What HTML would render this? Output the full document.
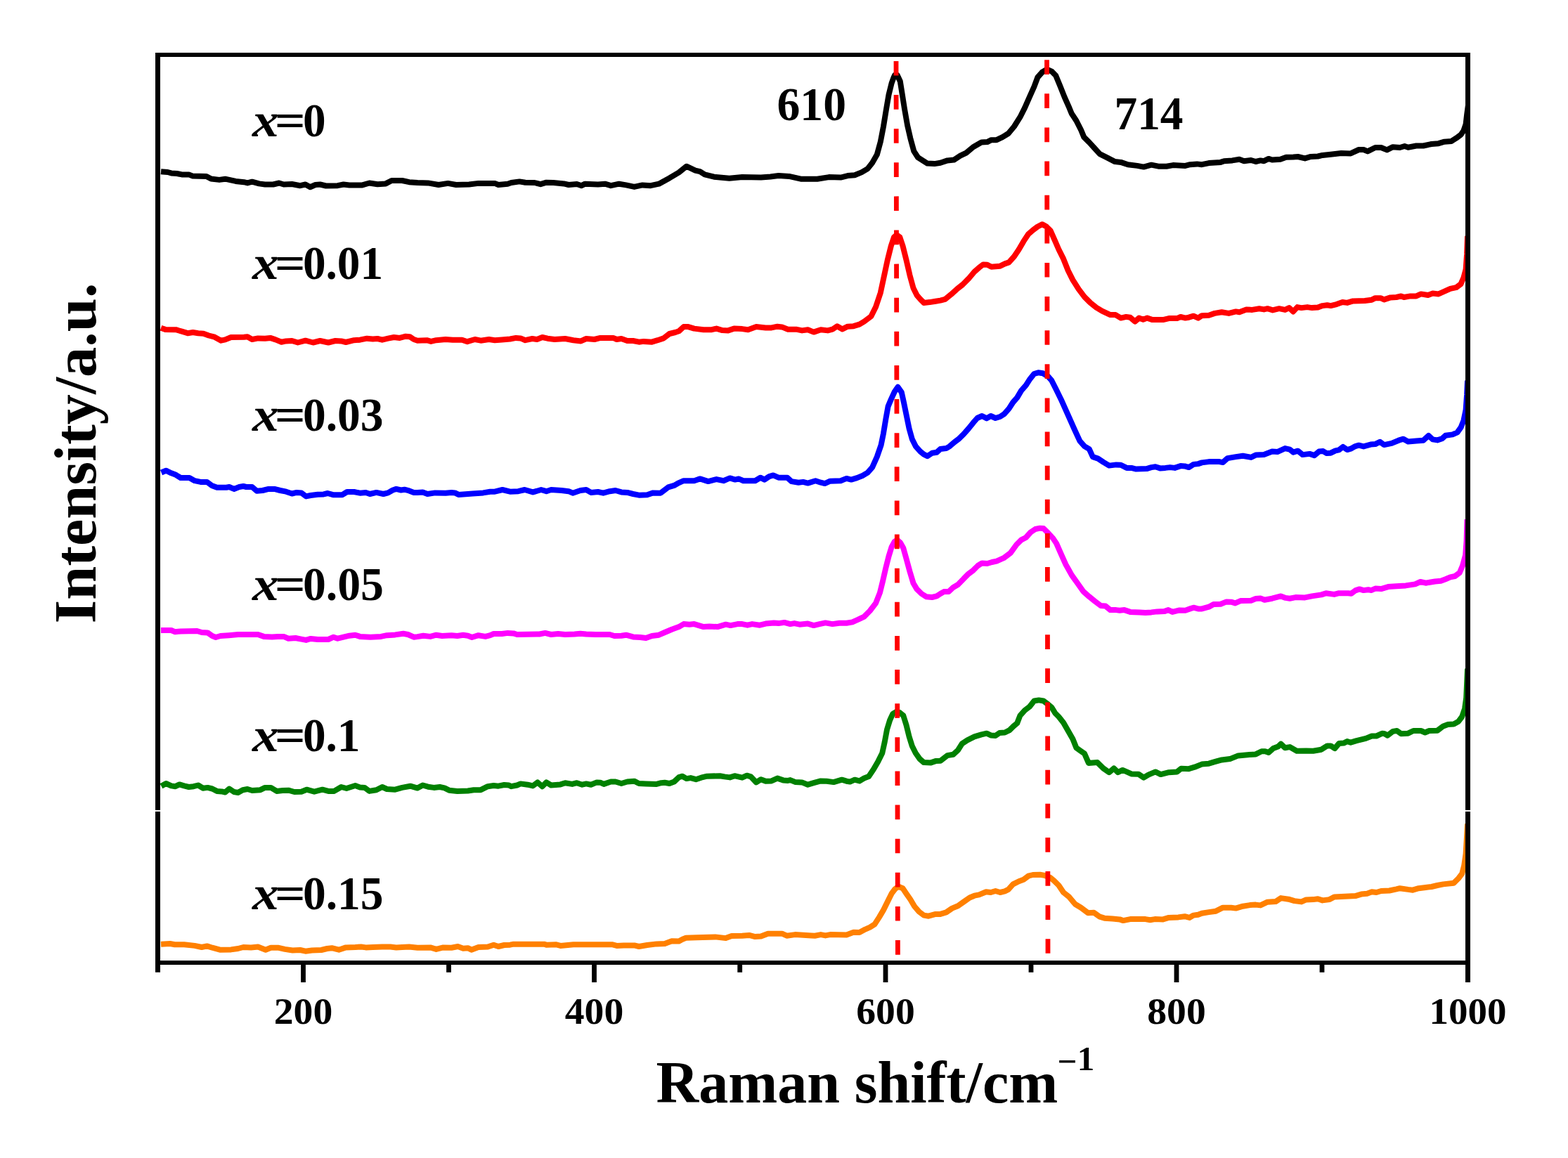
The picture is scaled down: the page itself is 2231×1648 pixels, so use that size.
<!DOCTYPE html>
<html lang="en"><head><meta charset="utf-8"><title>Raman spectra</title>
<style>html,body{margin:0;padding:0;background:#fff}body{width:2231px;height:1648px;overflow:hidden}svg{display:block}text{font-family:"Liberation Serif","Times New Roman",serif;font-weight:bold;fill:#000}.it{font-style:italic}</style></head><body>
<svg width="2231" height="1648" viewBox="0 0 2231 1648">
<rect width="2231" height="1648" fill="#fff"/>
<defs><clipPath id="plot"><rect x="224" y="78" width="1864.5" height="1292"/></clipPath></defs>
<g fill="none" stroke-width="8" stroke-linejoin="round" stroke-linecap="butt" clip-path="url(#plot)">
<path stroke="#000000" d="M229,244.2 L238.7,245 L243.7,246.4 L252,247 L258.7,248.4 L268.7,248.4 L273.7,250.4 L293.7,250.9 L300.4,254.5 L312,255.9 L320.4,254.7 L335.4,257.9 L347.1,259.2 L352.1,260.4 L358.7,258.7 L368.7,261.4 L377.1,262.5 L388.7,262.5 L397.1,260.5 L403.7,262.5 L415.4,262 L427.1,264.2 L434.6,262.5 L441.3,266.2 L448.8,263 L455.4,262.5 L463.8,264.5 L480.4,264.2 L488.8,262.5 L497.1,263.4 L515.5,263.4 L525.5,260.5 L537.1,262.2 L548.8,261.4 L557.2,257 L572.2,257 L582.2,259.2 L594,259.9 L609,260.4 L624,263 L637.4,260.9 L649,263 L667.4,262.5 L680.7,260.9 L704,260.9 L709.1,263 L722.4,261.7 L727.4,260 L739.1,258.4 L747.4,259.7 L760.7,260 L769.1,262.2 L777.4,259.7 L787.4,260 L802.4,261.4 L809.1,263 L820.8,262 L827.4,264.2 L832.4,261.7 L850.8,262.5 L860.8,261.7 L869.1,264.2 L880.8,261.7 L890.8,263.4 L902.5,265.9 L914.1,263.4 L925.8,264.2 L937.5,261.7 L952.5,253.4 L966,245.4 L976.8,236.7 L989.3,242.6 L996,244.2 L1002.7,248.4 L1016,251.7 L1037.7,253.7 L1056,252.1 L1082.7,252.6 L1096.1,251.4 L1107.7,250.1 L1122.7,250.9 L1139.4,254.7 L1162.8,254.7 L1179.4,252.1 L1196.1,252.6 L1206.1,250.1 L1216.1,249.2 L1226.1,245.1 L1234.5,240.1 L1241.1,231.7 L1247.8,220.1 L1252.8,201.7 L1257,180 L1260.8,156.7 L1264.5,135 L1268.6,118.4 L1271.8,109.7 L1273.1,107 L1276.8,107 L1278.1,110 L1280.8,115.8 L1283.6,133.4 L1287,155 L1291.1,178.4 L1295.3,196.7 L1300.3,215.1 L1306.2,224.2 L1312.8,228.4 L1319.5,232.6 L1329.5,233.1 L1338,231.7 L1348,228.4 L1357.2,227.6 L1366.3,221.7 L1374.7,217.6 L1384.7,209.2 L1396.4,202.6 L1404.7,202.1 L1410.5,199.2 L1418,199.2 L1426.4,195.1 L1434.7,190 L1443,180 L1451.4,166.7 L1458.1,153.4 L1464.7,138.4 L1471.4,123.4 L1476.4,110 L1483.1,102.5 L1489.6,98.7 L1496.4,101.7 L1502.2,107.5 L1508.1,121.7 L1514.7,138.4 L1521.4,153.4 L1524.8,161.7 L1531.4,171.7 L1538.1,185 L1542.3,195.1 L1549.8,202.6 L1558.1,211.7 L1564.8,219.2 L1574.8,224.2 L1586.4,230.1 L1594.8,230.9 L1604.8,234.2 L1618.1,235.9 L1627.3,237.6 L1638.1,234.7 L1648.1,236.7 L1659.8,236.7 L1669,235.1 L1686.5,235.9 L1693.2,234.2 L1703.2,233.4 L1710,234.2 L1720,232.1 L1736.7,230.9 L1741.7,229.2 L1753.3,228.4 L1763.4,226.7 L1770,229.2 L1780,228 L1786.7,230 L1793.4,228.4 L1798.4,229.2 L1805,225.9 L1810,227.5 L1821.7,226.7 L1830,223.7 L1840.1,223.4 L1846.7,223 L1856.7,225.4 L1865.1,222.9 L1875.1,222.5 L1881.7,220.9 L1893.4,219.7 L1908.4,218 L1921.8,218.4 L1933.4,213 L1940.1,213 L1945.9,215.4 L1956.8,210 L1965.1,210 L1973.4,213.4 L1981.8,209.2 L1991.8,210 L1998.5,208 L2003.5,209.7 L2015.1,207.5 L2025.1,207.5 L2036.8,205 L2046.8,204.2 L2055.2,201.7 L2065.2,200.9 L2071.8,196.7 L2078.5,191.7 L2082.5,185.9 L2085.6,176.7 L2087.1,163.4 L2088.8,150.8"/>
<path stroke="#ff0000" d="M229,466.7 L235.3,468.9 L250.3,469.2 L258.7,471.7 L267,474.2 L274.5,473 L282,474.2 L289.5,474.7 L297,477.5 L305.4,479.7 L314.5,484.7 L320.4,483.4 L328.7,480 L347.1,479.7 L352.1,479.2 L358.7,483 L367.1,481.4 L377.1,481.7 L384.6,480.9 L392.1,483.4 L400.4,486.7 L407.1,485.4 L415.4,485 L423.8,487.5 L434.6,484.7 L445.4,487.5 L455.4,485 L467.1,487.5 L477.1,485 L485.5,485.4 L492.1,487 L503.8,484.2 L512.1,483.7 L522.1,481.7 L530.5,482.5 L537.1,482 L543.8,483.7 L552.1,481.7 L560.5,480 L568.8,480.9 L577.2,478.7 L583,479.2 L588.8,483 L594,484.7 L607.3,484.2 L613.2,485.9 L620.7,484.2 L634,483 L644,483.7 L657.4,483.7 L664.9,486.2 L675.7,483 L684,484.7 L695.7,483 L704,484.2 L714.1,483.4 L725.7,482.5 L734.1,480.9 L740.7,481.4 L747.4,484.2 L757.4,482 L764.1,483 L771.6,480 L779.1,481.7 L789.1,483 L804.1,482 L815.8,484.2 L826.6,485.4 L834.1,482 L845.8,483 L854.1,480.9 L872.5,480.9 L877.5,483 L884.1,482 L892.5,485 L900.8,485 L909.1,486.7 L915.8,485.9 L927.5,486.7 L935.8,484.2 L944.2,481.4 L952.5,475 L960.8,473 L966,471.3 L972.7,465.1 L979.3,465.1 L987.7,467.6 L1001,469.2 L1012.7,469.2 L1019.4,467.6 L1027.7,470.1 L1036,470.4 L1044.4,467.6 L1056,468.1 L1064.4,469.2 L1076,465.1 L1089.4,466.4 L1097.7,466.4 L1106.1,464.7 L1112.7,465.4 L1121.1,468.7 L1132.7,468.7 L1141.1,470.4 L1149.4,469.2 L1157.8,472.6 L1167.8,469.2 L1177.8,470.4 L1184.4,468.7 L1191.1,464.2 L1198.6,468.4 L1206.1,464.7 L1214.4,464.2 L1222.8,461.7 L1229.5,457.6 L1239.5,450.1 L1246.1,436.7 L1252.8,416.7 L1257.8,393.4 L1262.8,370 L1267.8,350 L1272,337.5 L1275.8,334.2 L1280.3,337.5 L1284.5,350 L1289.5,370 L1294.5,391.7 L1299.5,410 L1304.5,420.1 L1309.5,425.9 L1314.5,430.9 L1322.8,430.1 L1331.2,428.7 L1338,427.6 L1344.7,425.9 L1353,419.2 L1361.3,411.7 L1369.7,405 L1378,396.7 L1386.4,386.7 L1393,380.9 L1398.9,376.4 L1404.7,376.7 L1410.5,379.7 L1423,378.7 L1429.7,375.4 L1435.5,373.4 L1443,365 L1449.7,355 L1456.4,343.4 L1463.1,333.3 L1469.7,327.5 L1476.4,322.5 L1483.1,319.2 L1488.9,322.5 L1494.7,328.3 L1500.6,341.7 L1506.4,355 L1513.1,368.4 L1519.7,385 L1526.4,398.4 L1534.8,411.7 L1543.1,422.6 L1551.4,430.9 L1559.8,437.6 L1568.1,442.6 L1579.8,448.1 L1587.3,448.1 L1594.8,452.6 L1602.3,450.9 L1608.1,451.7 L1614.8,457.6 L1620.6,452.6 L1626.5,454.7 L1632.3,452.6 L1639.8,455.1 L1654.8,455.1 L1663.1,453.1 L1674.8,453.1 L1679.8,450.9 L1686.5,452.6 L1691.5,451.7 L1698.2,449.7 L1704.8,452.6 L1710,449.2 L1720,448.7 L1728.3,445.9 L1738.3,444.2 L1748.3,445.9 L1758.4,443.4 L1763.4,444.2 L1773.4,440.4 L1781.7,440.9 L1791.7,439.2 L1798.4,440.4 L1803.4,439.2 L1810.9,441.4 L1820,439.2 L1828.4,440.9 L1834.2,438.1 L1840.1,443.4 L1845.9,437.1 L1851.7,438.1 L1860.1,437.1 L1866.7,438.1 L1875.1,437.6 L1881.7,435.1 L1888.4,434.2 L1893.4,435.1 L1901.7,433.1 L1910.1,430 L1916.8,430.9 L1925.1,428.4 L1941.8,428 L1951.8,426.7 L1956.8,424.2 L1964.3,424.2 L1969.3,426.4 L1978.4,423.4 L1986.8,423 L1993.5,421.4 L1997.6,423 L2006.8,421.4 L2015.1,421.4 L2021.8,418.4 L2031.8,420 L2038.5,417.5 L2046.8,418.4 L2055.2,414.7 L2063.5,410.9 L2071.8,409.2 L2078.5,404.2 L2082.5,395 L2085.6,383.4 L2087.1,361.7 L2088,335.8"/>
<path stroke="#0000ff" d="M229.5,672.5 L236.2,669.7 L243.7,673.3 L250.3,675.8 L257,680 L269.5,680 L277,684.2 L285.4,685.9 L294.5,685.9 L301.2,690.9 L308.7,693.7 L322,693.7 L326.2,693 L332.9,695.9 L340.4,693 L346.2,692 L350.4,693 L358.7,693 L365.4,698.7 L373.7,698 L382.1,695.9 L390.4,695.9 L398.7,698 L407.1,699.7 L415.4,702.5 L422.1,700.9 L428.8,701.4 L435.4,706.4 L442.1,705 L452.1,703.7 L460.4,703.4 L466.3,702 L473.8,704.2 L487.1,704.2 L493.8,700 L503.8,700 L512.1,701.7 L520.5,700.9 L526.3,703 L535.5,700.9 L545.5,703 L552.1,701.4 L558.8,697.5 L563.8,695.9 L570.5,697.5 L575.5,696.7 L582.2,698.4 L588.8,700.9 L594,700.9 L601.5,700.4 L608.2,703 L619,701.4 L634,701.7 L642.4,700.9 L647.4,701.4 L652.4,703.9 L672.4,702.5 L687.4,701.4 L697.4,699.7 L704,699.7 L714.9,697 L725.7,699.7 L737.4,699.2 L746.6,697 L758.2,700.4 L769.9,697 L777.4,699.2 L784.1,697 L799.1,698 L809.1,699.2 L814.9,701.7 L825.8,698 L834.1,697 L840.8,700.9 L850.8,700 L858.3,701.7 L867.5,699.2 L875.8,698 L884.1,700.4 L892.5,700.9 L900.8,703 L909.1,704.7 L920.8,704.2 L929.2,701.4 L940,701.7 L950.8,693.4 L959.2,690.9 L966,687.1 L972.7,684.2 L987.7,684.2 L996,681.4 L1007.7,685.1 L1019.4,682.1 L1029.4,684.2 L1038.5,680.4 L1046,682.6 L1051,681.4 L1057.7,684.2 L1074.4,684.2 L1081.9,679.7 L1087.7,682.6 L1094.4,678.1 L1100.2,676.4 L1107.7,679.7 L1120.2,679.7 L1126.1,685.1 L1136.1,686.7 L1142.7,685.9 L1149.4,687.6 L1160.3,684.2 L1167.8,686.7 L1173.6,688.1 L1181.1,684.7 L1196.1,684.2 L1204.4,680.9 L1211.1,682.6 L1219.4,680.1 L1227.8,676.7 L1234.5,672.6 L1241.1,665.1 L1247.8,650.1 L1253.6,633.4 L1257,616.7 L1260.3,596.7 L1263.6,578.4 L1267.8,568.4 L1272.8,557.5 L1277.5,550.8 L1282.8,558.4 L1286.1,573.4 L1289.5,590 L1293.6,610 L1297.8,625 L1302.8,635.1 L1309.5,642.6 L1314.5,646.7 L1319.5,649.2 L1326.2,644.7 L1332.8,643.7 L1338,639 L1346.3,638.1 L1351.3,635.1 L1358,629.2 L1364.7,624.2 L1371.3,617.6 L1378,610 L1384.7,601.7 L1390.5,595 L1397.2,592 L1403.9,595.4 L1409.7,592 L1416.4,595 L1423,593 L1428.9,589.2 L1435.5,581.7 L1441.4,572.5 L1447.2,565.9 L1453.1,555.9 L1459.7,548.4 L1465.6,539.2 L1471.4,532 L1477.2,530.3 L1483.9,531.3 L1491.4,535.8 L1496.4,541.7 L1503.1,555 L1509.7,568.4 L1516.4,583.4 L1523.1,598.4 L1529.8,613.4 L1536.4,627.6 L1543.1,635.1 L1549.8,639.2 L1554.8,650.1 L1562.3,652.6 L1569.8,657.6 L1578.1,662.6 L1588.1,661.4 L1594.8,661.7 L1603.1,665.9 L1609.8,665.9 L1616.5,667.6 L1631.5,667.1 L1638.1,665.1 L1644,664.2 L1650.6,666.4 L1658.1,665.9 L1664.8,665.1 L1671.5,665.9 L1679.8,663.1 L1685.7,663.4 L1691.5,665.1 L1698.2,660.9 L1704.8,660.1 L1710,658.4 L1720,657.1 L1735,657.1 L1740,658.1 L1746.7,652.1 L1758.4,650.1 L1768.4,648.7 L1780,650.9 L1786.7,647.6 L1798.4,647.1 L1810,642.6 L1817.5,643.1 L1828.4,638.1 L1835.1,639.7 L1840.1,643.7 L1846.7,641.7 L1853.4,647.1 L1863.4,645.9 L1870.1,648.1 L1876.7,642.6 L1882.6,642.1 L1887.6,645.1 L1893.4,644.7 L1900.1,641.4 L1905.1,640.4 L1910.9,635.9 L1916.8,640.1 L1921.8,638.7 L1928.4,635.1 L1933.4,633.7 L1940.1,635.4 L1950.1,632.6 L1956.8,632.1 L1963.4,628.7 L1969.3,633.1 L1980.1,630.9 L1990.1,626.7 L1996.8,624.7 L2003.5,628.4 L2015.1,627.5 L2025.1,626.7 L2032.6,620 L2038.5,625.4 L2045.1,626.4 L2051.8,624.2 L2056.8,619.7 L2066.8,618.4 L2073.5,615.4 L2078.5,608.4 L2082.5,598.4 L2085.6,583.4 L2087.1,561.7 L2088,541.7"/>
<path stroke="#ff00ff" d="M229,897 L243.7,897 L248.7,899.2 L257,898.4 L280.4,898 L287,900 L295.4,900.4 L302,905 L307,907 L313.7,905 L325.4,904.2 L338.7,903 L367.1,903 L375.4,905.9 L387.1,906.4 L395.4,905.9 L403.7,905.9 L410.4,908.7 L420.4,908 L428.8,909.7 L435.4,910.9 L442.1,908.9 L452.1,910 L467.1,910 L474.6,906.7 L480.4,908.7 L488.8,906.7 L497.1,904.7 L505.5,903.7 L512.1,905.9 L527.1,906.7 L542.1,905.9 L550.5,904.2 L562.2,903.4 L573.8,901.7 L580.5,903 L588.8,906.7 L594,906.1 L602.3,904.7 L612.3,905.9 L620.7,903.7 L629,905 L642.4,904.2 L650.7,905 L659,903.7 L665.7,904.7 L671.5,907 L680.7,904.2 L690.7,905.9 L697.4,904.2 L702.4,902 L714.1,902 L722.4,900.9 L730.7,901.4 L735.7,903 L767.4,902.5 L775.7,900.9 L784.1,903 L794.1,902 L804.1,903 L817.4,902.5 L825.8,901.7 L834.1,902.5 L847.4,903 L867.5,903 L874.1,905 L884.1,904.7 L890.8,903.7 L900.8,906.4 L910.8,907 L919.1,908 L927.5,905 L937.5,903.7 L945.8,900 L955.8,895.8 L966,892.1 L972.7,888.1 L981,888.7 L987.7,888.1 L994.3,890.1 L1001,892.1 L1009.4,891.4 L1021,892.1 L1032.7,888.7 L1039.4,890.1 L1049.4,888.1 L1056,888.1 L1063.5,889.7 L1070.2,888.1 L1081.1,889.7 L1089.4,887.6 L1101.1,886.4 L1107.7,887.1 L1116.1,885.9 L1124.4,888.1 L1130.2,887.1 L1137.7,888.7 L1149.4,887.6 L1157.8,890.1 L1166.1,888.1 L1174.4,886.4 L1184.4,888.1 L1194.4,886.7 L1204.4,886.7 L1212.8,885.4 L1221.1,881.7 L1229.5,877.6 L1237.8,869.2 L1246.1,858.4 L1252,843.4 L1256.1,826.7 L1260.3,808.4 L1264.5,791.7 L1268.6,778.4 L1272.8,770.8 L1276.6,768.3 L1281.1,772.5 L1285.3,780 L1289.5,795 L1294.5,813.4 L1299.5,830 L1304.5,838.4 L1311.2,845 L1317.8,849.2 L1326.2,850 L1332.8,848.4 L1338,845 L1343,842.1 L1349.7,842.1 L1356.3,835.9 L1363,832.1 L1371.3,823.4 L1378,816.7 L1384.7,811.7 L1391.4,805 L1397.2,801.4 L1404.7,802 L1411.4,800 L1418,798.7 L1428,794.2 L1438,786.7 L1446.4,775 L1453.1,768.4 L1459.7,765 L1466.4,757.5 L1473.1,753 L1479.7,751.7 L1484.7,752 L1491.4,758.7 L1498.1,765.9 L1503.1,773.4 L1509.7,788.4 L1516.4,803.4 L1524.8,818.4 L1533.1,830 L1541.4,841.7 L1549.8,849.2 L1558.1,855.9 L1566.4,862.1 L1573.1,862.6 L1579.8,868.1 L1588.1,868.1 L1593.1,868.7 L1599.8,868.1 L1608.1,870.9 L1621.5,871.4 L1629.8,872.1 L1638.1,871.4 L1646.5,870.4 L1656.5,870.1 L1662.3,868.1 L1668.1,870.9 L1678.2,868.4 L1686.5,868.7 L1693.2,866.4 L1698.2,864.7 L1704.8,866.4 L1710,866.4 L1720,863.7 L1726.7,860.1 L1736.7,859.7 L1745,856.4 L1751.7,856.7 L1757.5,858.4 L1765,855.1 L1780,854.7 L1786.7,852.1 L1793.4,851.4 L1799.2,853.7 L1810,851.7 L1822.5,848.4 L1829.2,850.9 L1835.1,851.7 L1843.4,850.1 L1856.7,850.4 L1866.7,848.4 L1880.1,846.4 L1886.7,844.2 L1898.4,845.9 L1905.1,844.2 L1918.4,844.2 L1922.6,844.7 L1928.4,840.4 L1934.3,838.4 L1940.1,840.1 L1946.8,839.2 L1950.9,840.1 L1956.8,837.6 L1965.1,838.1 L1975.1,835.1 L1986.8,834.2 L2000.1,833.4 L2013.5,831.4 L2021,828 L2028.5,829.7 L2041.8,827.5 L2050.1,826.7 L2056.8,824.2 L2063.5,821.4 L2070.2,820 L2076.8,815 L2081,805 L2085.1,790 L2086.6,770 L2087.5,739.2"/>
<path stroke="#008000" d="M229.5,1118.7 L236.2,1115 L243.7,1118.4 L249.5,1119.2 L255.3,1116.4 L262,1118.4 L268.7,1120 L275.4,1119.2 L282,1117.5 L288.7,1121.7 L295.4,1120.9 L302,1122.5 L308.7,1125.9 L315.4,1126.4 L320.4,1127.5 L326.2,1122.5 L332.9,1127 L338.7,1128 L345.4,1124.2 L352.1,1123 L358.7,1125 L370.4,1124.2 L377.1,1120.9 L385.4,1120.9 L393.7,1125.9 L402.1,1125 L410.4,1124.7 L418.8,1127 L428.8,1126.7 L436.3,1123.7 L447.1,1126.7 L458.8,1123.7 L467.1,1125.9 L475.4,1125.9 L485.5,1120 L493,1122 L505.5,1118 L512.1,1120.4 L518.8,1120.9 L525.5,1125.9 L535.5,1124.2 L543.8,1120 L550.5,1123 L562.2,1123.7 L572.2,1120.9 L583.8,1118.7 L594,1121.6 L601.5,1117.5 L609,1119.7 L617.3,1120.9 L625.7,1120 L632.4,1121.4 L639,1124.7 L650.7,1125.9 L665.7,1125.5 L674,1124.2 L684,1124.2 L694,1119.2 L702.4,1118 L709.1,1118.7 L717.4,1117 L724.1,1117.5 L727.4,1119.2 L735.7,1117.5 L740.7,1115.4 L750.7,1116.7 L758.2,1118.4 L764.9,1113.4 L771.6,1119.2 L777.4,1113.4 L784.1,1117.5 L797.4,1116.4 L804.1,1114.2 L814.1,1115.9 L820.8,1114.2 L828.3,1116.7 L834.1,1115.4 L840.8,1116.7 L849.1,1113.4 L854.1,1113.7 L859.1,1115.9 L869.1,1112.5 L875.8,1112.5 L884.1,1115 L892.5,1112.5 L902.5,1111.7 L909.1,1115 L919.1,1115.4 L934.2,1115.9 L940.8,1114.2 L945.8,1113.7 L952.5,1115 L959.2,1112.5 L966,1106.1 L971,1104.7 L976.8,1108.1 L982.7,1107.1 L990.2,1109.2 L997.7,1106.7 L1006,1104.7 L1024.4,1104.2 L1031,1105.4 L1038.5,1106.4 L1045.2,1104.2 L1056,1106.7 L1062.7,1103.7 L1068.5,1105.4 L1076,1113.4 L1082.7,1109.2 L1089.4,1111.7 L1097.7,1111.4 L1106.1,1107.6 L1114.4,1110.4 L1121.1,1110.9 L1124.4,1110.1 L1131.9,1113.1 L1141.1,1113.4 L1149.4,1116.7 L1157.8,1114.2 L1167.8,1111.4 L1176.1,1111.7 L1186.1,1113.1 L1197.8,1109.7 L1204.4,1111.7 L1209.4,1112.6 L1216.1,1109.7 L1222.8,1111.4 L1229.5,1107.6 L1236.1,1105.1 L1242.8,1095.1 L1249.5,1083.4 L1255.3,1071.7 L1258.6,1056.7 L1262,1038.4 L1266.1,1025 L1270.3,1015.9 L1275.3,1013 L1280.3,1014.2 L1285.3,1018.4 L1289.5,1031.7 L1293.6,1048.4 L1297.8,1061.7 L1302.8,1071.7 L1308.7,1080.1 L1314.5,1085.1 L1324.5,1085.4 L1331.2,1083.1 L1338,1082.8 L1348,1075.1 L1356.3,1073.7 L1363,1067.6 L1368.8,1058.4 L1376.4,1053.4 L1386.4,1048.4 L1396.4,1045.4 L1403.9,1043.7 L1409.7,1046.4 L1416.4,1047 L1422.2,1043 L1429.7,1042.5 L1436.4,1039.2 L1442.2,1033.4 L1447.2,1029.2 L1451.4,1018.4 L1458.1,1010.9 L1464.7,1005.9 L1471.4,997.5 L1478.1,996.4 L1484.7,997.5 L1491.4,1002.5 L1496.4,1006.7 L1501.4,1015 L1506.4,1020 L1513.1,1028.4 L1519.7,1040 L1526.4,1051.7 L1531.4,1064.2 L1537.3,1068.4 L1543.1,1072.6 L1548.9,1085.9 L1561.4,1085.1 L1569.8,1093.4 L1578.1,1099.2 L1584.8,1093.4 L1590.6,1099.2 L1597.3,1095.9 L1603.1,1098.4 L1609.8,1101.4 L1619.8,1101.7 L1627.3,1106.7 L1634,1102.6 L1644,1098.4 L1651.5,1102.1 L1663.1,1099.2 L1674.8,1098.4 L1680.7,1093.7 L1691.5,1094.2 L1699.8,1091.7 L1710,1087.6 L1720,1086.7 L1728.3,1084.2 L1738.3,1081.4 L1750,1080.1 L1761.7,1075.4 L1775,1074.2 L1786.7,1073.4 L1795,1069.2 L1800,1069.2 L1805,1070.9 L1811.7,1065.1 L1818.4,1062.6 L1822.5,1058.7 L1828.4,1064.2 L1835.1,1063.1 L1845.1,1068.7 L1858.4,1068.4 L1868.4,1068.7 L1880.1,1066.7 L1888.4,1061.4 L1893.4,1061.4 L1899.2,1065.1 L1905.1,1058.1 L1911.8,1057.6 L1916.8,1055.1 L1921.8,1056.7 L1930.1,1054.2 L1943.4,1050.9 L1951.8,1047.5 L1958.4,1047.5 L1966.8,1043.7 L1970.1,1044.2 L1974.3,1046.7 L1981.8,1040.9 L1987.6,1040 L1993.5,1044.2 L2003.5,1043.7 L2011,1040 L2021.8,1040 L2027.6,1042.5 L2033.5,1040 L2045.1,1039.7 L2053.5,1033.4 L2060.2,1030.9 L2068.5,1030.4 L2075.2,1026.7 L2080.2,1020 L2084.1,1008.4 L2086.2,993.4 L2087.1,973.3 L2088,951.7"/>
<path stroke="#ff8000" d="M229,1343.7 L242,1343 L248.7,1344.2 L262,1344.2 L277,1345.9 L287,1348 L294.5,1346.4 L302,1348.7 L312.9,1351.7 L328.7,1351.4 L338.7,1350 L346.2,1348 L357.1,1348.4 L367.1,1347.5 L377.9,1351.7 L385.4,1348.7 L395.4,1348.7 L405.4,1350.9 L416.3,1352.5 L427.1,1352 L434.6,1353.7 L443.8,1352.5 L457.1,1352 L465.4,1350 L472.1,1349.2 L482.1,1351.7 L492.1,1348.4 L505.5,1348 L513.8,1347.5 L520.5,1348.4 L530.5,1348 L543.8,1347.5 L555.5,1347.5 L563.8,1348.4 L572.2,1348 L582.2,1347.5 L594,1348.7 L612.3,1348.4 L620.7,1350.9 L630.7,1348.4 L642.4,1348.7 L651.5,1347 L659,1349.7 L665.7,1349.2 L670.7,1351.7 L680.7,1348 L694,1347.5 L702.4,1344.7 L709.1,1347 L717.4,1345 L725.7,1344.7 L730.7,1343.7 L774.1,1343.7 L777.4,1344.7 L790.8,1344.2 L797.4,1345.9 L815.8,1344.2 L827.4,1344.2 L870.8,1344.2 L877.5,1345.9 L887.5,1345.4 L902.5,1345.4 L909.1,1347 L920.8,1345 L934.2,1343.4 L945.8,1343 L955.8,1339.2 L966,1339.5 L971,1336.7 L976,1334.7 L991,1334.2 L1017.7,1333.4 L1032.7,1335.1 L1041,1332.1 L1056,1331.7 L1066,1330.9 L1074.4,1333.1 L1082.7,1332.6 L1092.7,1328.7 L1112.7,1328.7 L1119.4,1331.7 L1131.1,1330.1 L1154.4,1331.4 L1159.4,1331.7 L1167.8,1330.1 L1174.4,1331.4 L1181.1,1330.1 L1204.4,1330.4 L1214.4,1326.7 L1222.8,1327.1 L1231.1,1322.6 L1237.8,1319.7 L1244.5,1315.4 L1251.1,1305.1 L1257,1295.1 L1262.8,1283.4 L1268.6,1271.7 L1273.6,1265 L1278.6,1261.7 L1284.5,1264.2 L1289.5,1271.7 L1295.3,1280 L1301.2,1290 L1307.8,1297.6 L1314.5,1302.6 L1321.2,1303.7 L1331.2,1300.9 L1338,1300.9 L1346.3,1298.4 L1354.7,1292.6 L1363,1289.2 L1371.3,1283.4 L1379.7,1277.5 L1386.4,1274.7 L1393,1273.4 L1403,1269.2 L1409.7,1270 L1416.4,1268 L1423,1270 L1429.7,1268.4 L1434.7,1265.9 L1441.4,1258.4 L1449.7,1254.2 L1456.4,1251.7 L1463.1,1246.7 L1469.7,1245 L1479.7,1244.7 L1486.4,1245.9 L1493.9,1248.7 L1499.7,1253.4 L1506.4,1260 L1513.1,1270 L1521.4,1276.7 L1529.8,1286.7 L1538.1,1291.7 L1548.1,1299.2 L1556.4,1298.7 L1564.8,1304.7 L1571.4,1306.7 L1583.1,1307.6 L1593.1,1308.4 L1598.1,1310.1 L1608.1,1308.1 L1629.8,1308.1 L1636.5,1309.2 L1643.1,1308.1 L1654.8,1308.4 L1663.1,1305.9 L1676.5,1305.4 L1685.7,1304.2 L1692.3,1305.9 L1698.2,1302.6 L1704.8,1301.7 L1710,1299.7 L1720,1298.1 L1730,1296.7 L1740,1291.7 L1751.7,1291.7 L1758.4,1292.6 L1768.4,1289.7 L1778.4,1288.1 L1786.7,1287.6 L1793.4,1288.4 L1803.4,1283.7 L1815,1283.1 L1822.5,1278.1 L1833.4,1279.7 L1841.7,1282.1 L1851.7,1283.4 L1858.4,1280.4 L1868.4,1280.1 L1875.1,1279.2 L1881.7,1281.4 L1891.7,1280.1 L1898.4,1276.4 L1908.4,1275.9 L1918.4,1275.4 L1928.4,1275.1 L1936.8,1272.6 L1945.1,1271.7 L1951.8,1269.2 L1958.4,1270 L1965.1,1268 L1976.8,1267.5 L1986.8,1265.4 L1991.8,1264.2 L2003.5,1265.9 L2010.1,1266.7 L2018.5,1264.2 L2028.5,1263 L2036.8,1262 L2045.1,1260 L2053.5,1258.4 L2068.5,1256.7 L2075.2,1250 L2080.2,1243.4 L2083.2,1231.7 L2085.6,1215 L2086.9,1193.3 L2088,1172.5"/>
</g>
<g stroke="#ff0000" stroke-width="6.8" fill="none" stroke-dasharray="20.7,27.42">
<line x1="1275" y1="86.9" x2="1277.4" y2="1358.7"/>
<line x1="1489.5" y1="85.2" x2="1491" y2="1356.8"/>
</g>
<g stroke="#000" fill="none">
<line x1="224.5" y1="75.6" x2="224.5" y2="1383.8" stroke-width="7"/>
<line x1="2088.5" y1="75.6" x2="2088.5" y2="1398" stroke-width="7"/>
<line x1="221" y1="78" x2="2092" y2="78" stroke-width="6"/>
<line x1="221" y1="1370" x2="2092" y2="1370" stroke-width="6"/>
<g stroke-width="6.8">
<line x1="431.5" y1="1370" x2="431.5" y2="1398"/>
<line x1="845.5" y1="1370" x2="845.5" y2="1398"/>
<line x1="1260" y1="1370" x2="1260" y2="1398"/>
<line x1="1674" y1="1370" x2="1674" y2="1398"/>
<line x1="638.5" y1="1370" x2="638.5" y2="1383.8"/>
<line x1="1052.7" y1="1370" x2="1052.7" y2="1383.8"/>
<line x1="1467" y1="1370" x2="1467" y2="1383.8"/>
<line x1="1881" y1="1370" x2="1881" y2="1383.8"/>
</g></g>
<rect x="219" y="1152.9" width="11" height="2" fill="#fff"/>
<rect x="2083" y="1152.9" width="14" height="2" fill="#fff"/>
<g font-size="52" text-anchor="middle">
<text x="431.5" y="1456.6" textLength="83.5" lengthAdjust="spacingAndGlyphs">200</text>
<text x="845.5" y="1456.6" textLength="83.5" lengthAdjust="spacingAndGlyphs">400</text>
<text x="1260" y="1456.6" textLength="83.5" lengthAdjust="spacingAndGlyphs">600</text>
<text x="1674" y="1456.6" textLength="83.5" lengthAdjust="spacingAndGlyphs">800</text>
<text x="2088.5" y="1456.6" textLength="110" lengthAdjust="spacingAndGlyphs">1000</text>
</g>
<g font-size="68">
<text y="194"><tspan class="it" x="359.1" textLength="37.8" lengthAdjust="spacingAndGlyphs">x</tspan><tspan x="390.7" textLength="44" lengthAdjust="spacingAndGlyphs">=</tspan><tspan x="430.9" textLength="32.6" lengthAdjust="spacingAndGlyphs">0</tspan></text>
<text y="397"><tspan class="it" x="359.1" textLength="37.8" lengthAdjust="spacingAndGlyphs">x</tspan><tspan x="390.7" textLength="44" lengthAdjust="spacingAndGlyphs">=</tspan><tspan x="430.9" textLength="114.2" lengthAdjust="spacingAndGlyphs">0.01</tspan></text>
<text y="612.5"><tspan class="it" x="359.1" textLength="37.8" lengthAdjust="spacingAndGlyphs">x</tspan><tspan x="390.7" textLength="44" lengthAdjust="spacingAndGlyphs">=</tspan><tspan x="430.9" textLength="114.6" lengthAdjust="spacingAndGlyphs">0.03</tspan></text>
<text y="854"><tspan class="it" x="359.1" textLength="37.8" lengthAdjust="spacingAndGlyphs">x</tspan><tspan x="390.7" textLength="44" lengthAdjust="spacingAndGlyphs">=</tspan><tspan x="430.9" textLength="115" lengthAdjust="spacingAndGlyphs">0.05</tspan></text>
<text y="1069.4"><tspan class="it" x="359.1" textLength="37.8" lengthAdjust="spacingAndGlyphs">x</tspan><tspan x="390.7" textLength="44" lengthAdjust="spacingAndGlyphs">=</tspan><tspan x="430.9" textLength="81.6" lengthAdjust="spacingAndGlyphs">0.1</tspan></text>
<text y="1294"><tspan class="it" x="359.1" textLength="37.8" lengthAdjust="spacingAndGlyphs">x</tspan><tspan x="390.7" textLength="44" lengthAdjust="spacingAndGlyphs">=</tspan><tspan x="430.9" textLength="114.6" lengthAdjust="spacingAndGlyphs">0.15</tspan></text>
</g>
<g font-size="68">
<text x="1105.5" y="171.3" textLength="98.5" lengthAdjust="spacingAndGlyphs">610</text>
<text x="1585.5" y="184" font-size="68" textLength="98" lengthAdjust="spacingAndGlyphs">714</text>
</g>
<text x="933.5" y="1569.3" font-size="84">Raman shift/cm<tspan font-size="49" dx="-0.3" dy="-42.5">−</tspan><tspan font-size="49" dy="-4">1</tspan></text>
<text transform="translate(136.4,887.5) rotate(-90)" font-size="84" textLength="485" lengthAdjust="spacingAndGlyphs">Intensity/a.u.</text>
</svg></body></html>
